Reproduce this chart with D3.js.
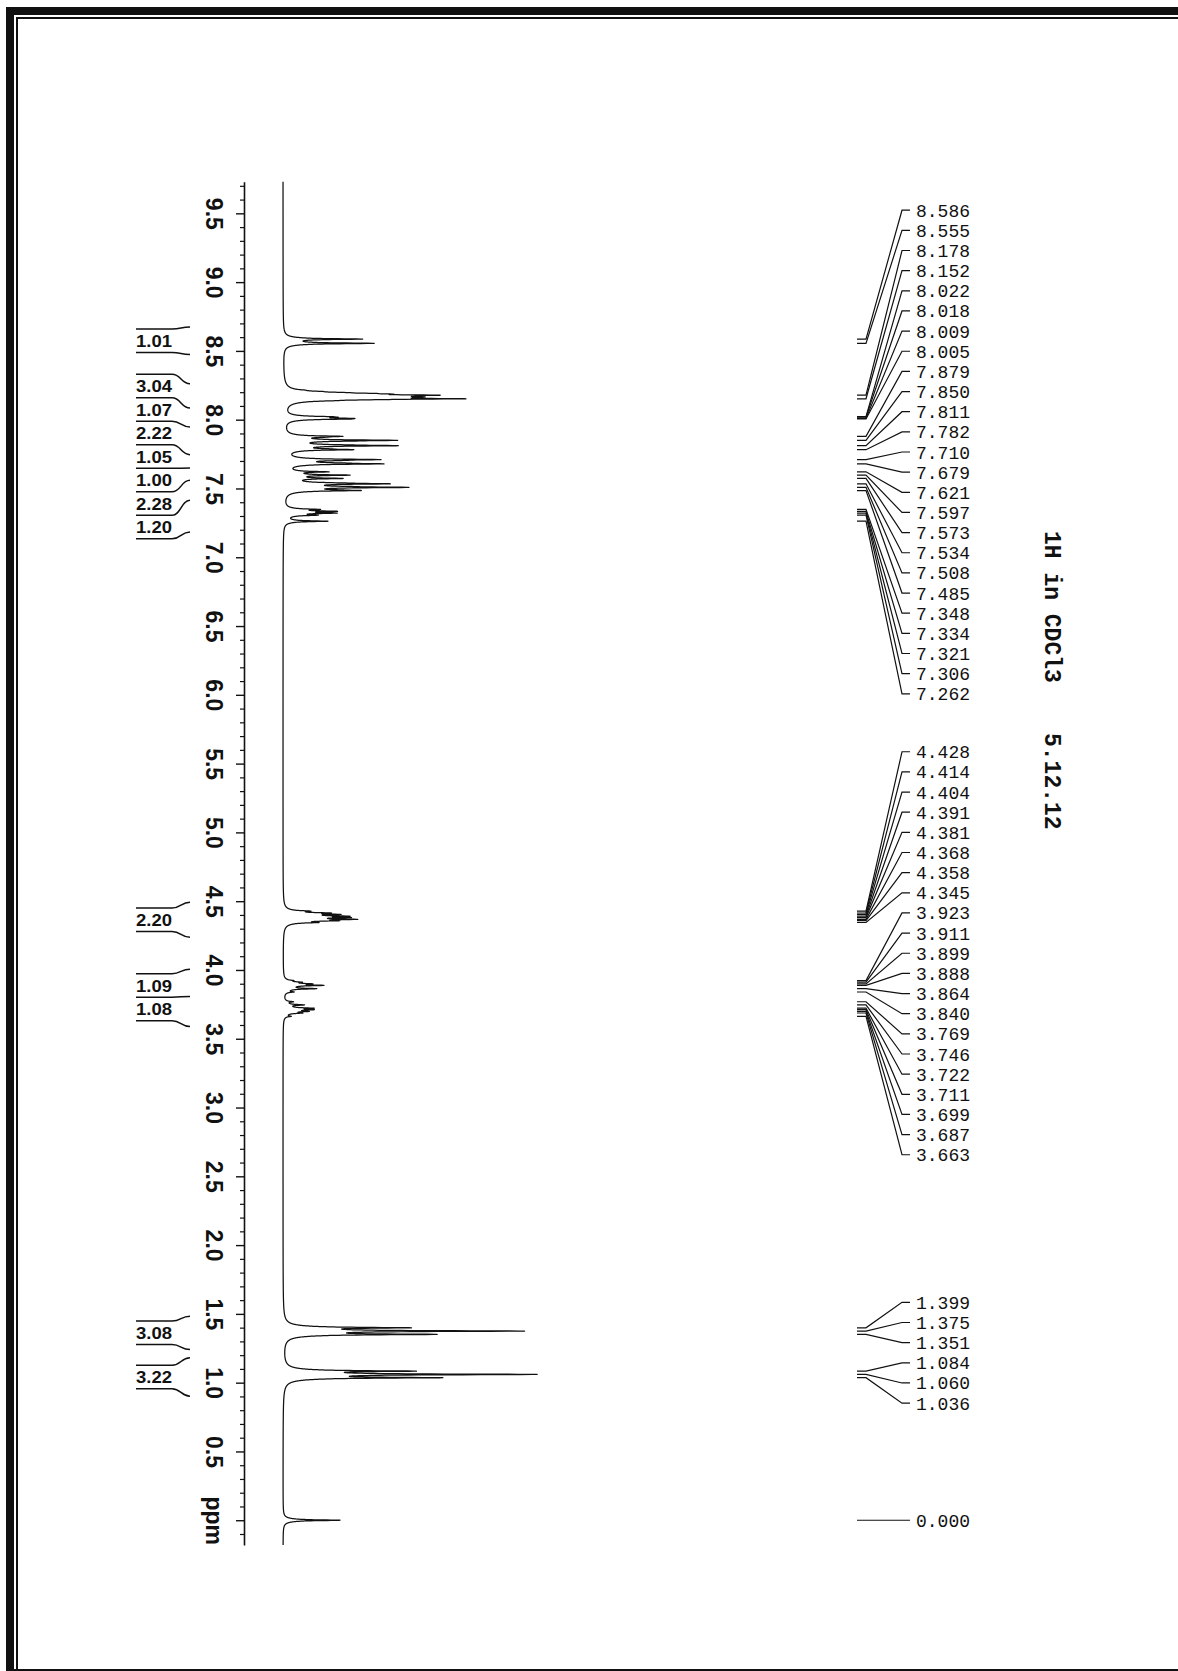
<!DOCTYPE html>
<html>
<head>
<meta charset="utf-8">
<script src="https://cdn.jsdelivr.net/npm/d3@7"></script>
<style>
  body { margin: 0; background: #fff; }
  svg { display: block; }
</style>
</head>
<body>
<svg id="chart" width="1178" height="1671"></svg>
<script>
// ---- data -------------------------------------------------------------

// plotted chemical-shift window (ppm), top of the page to bottom
const shiftWindow = [9.73, -0.18];

// picked peaks: shift (ppm) and line height (intensity units)
const peakShifts = [
  8.586, 8.555, 8.178, 8.152, 8.022, 8.018, 8.009, 8.005, 7.879, 7.850,
  7.811, 7.782, 7.710, 7.679, 7.621, 7.597, 7.573, 7.534, 7.508, 7.485,
  7.348, 7.334, 7.321, 7.306, 7.262,
  4.428, 4.414, 4.404, 4.391, 4.381, 4.368, 4.358, 4.345,
  3.923, 3.911, 3.899, 3.888, 3.864, 3.840,
  3.769, 3.746, 3.722, 3.711, 3.699, 3.687, 3.663,
  1.399, 1.375, 1.351, 1.084, 1.060, 1.036,
  0.000
];
const peakHeights = [
  76, 88, 95, 135, 24, 26, 40, 40, 46, 96,
  96, 56, 82, 85, 38, 58, 50, 88, 106, 60,
  28, 42, 42, 26, 43,
  18, 32, 38, 44, 44, 54, 36, 24,
  6, 12, 20, 34, 30, 8,
  8, 18, 24, 22, 18, 14, 6,
  112, 226, 138, 116, 238, 143,
  57
];

// weaker lines inside the multiplets that were not picked
const minorShifts  = [8.215, 8.205, 8.197, 8.191, 8.186, 8.172, 8.166, 8.160, 8.146, 8.138,
                      7.873, 7.845, 7.816, 7.788, 7.704, 7.685, 7.540, 7.514, 7.490];
const minorHeights = [6, 12, 22, 35, 45, 50, 60, 55, 30, 12,
                      18, 25, 25, 18, 25, 25, 22, 20, 18];

// integrals: value and region limits (ppm)
const integralValues = ["1.01", "3.04", "1.07", "2.22", "1.05", "1.00", "2.28", "1.20",
                        "2.20", "1.09", "1.08", "3.08", "3.22"];
const integralFrom = [8.673, 8.261, 8.085, 7.947, 7.746, 7.649, 7.559, 7.414,
                      4.493, 4.006, 3.807, 1.483, 1.181];
const integralTo   = [8.474, 8.085, 7.947, 7.746, 7.649, 7.559, 7.414, 7.184,
                      4.238, 3.807, 3.589, 1.241, 0.902];

// shift axis
const majorTicks = [9.5, 9.0, 8.5, 8.0, 7.5, 7.0, 6.5, 6.0, 5.5, 5.0,
                    4.5, 4.0, 3.5, 3.0, 2.5, 2.0, 1.5, 1.0, 0.5, 0.0];
const tickLabels = ["9.5", "9.0", "8.5", "8.0", "7.5", "7.0", "6.5", "6.0", "5.5", "5.0",
                    "4.5", "4.0", "3.5", "3.0", "2.5", "2.0", "1.5", "1.0", "0.5", "ppm"];

// sample description
const titleLines = ["1H in CDCl3", "5.12.12"];

// ---- drawing ----------------------------------------------------------

const svg = d3.select("#chart");
const ink = "#111";

// page frame
const frame = svg.append("g").attr("fill", ink);
frame.append("rect").attr("x", 6).attr("y", 7).attr("width", 1180).attr("height", 8);
frame.append("rect").attr("x", 6).attr("y", 7).attr("width", 8).attr("height", 1670);
frame.append("rect").attr("x", 16).attr("y", 17).attr("width", 1170).attr("height", 2);
frame.append("rect").attr("x", 16).attr("y", 17).attr("width", 2).attr("height", 1660);
frame.append("rect").attr("x", 6).attr("y", 1669).attr("width", 1175).attr("height", 2);

// scales: shift runs down the page, intensity to the right
const y = d3.scaleLinear().domain(shiftWindow).range([181.7, 1545]);
const x = d3.scaleLinear().domain([0, 260]).range([283, 543]);

// axis with major and minor ticks
const axisX = 244;
const minorTicks = d3.range(97, -2, -1).map(v => v / 10).filter(v => Math.abs(v * 2 - Math.round(v * 2)) > 1e-6);

svg.append("g")
  .attr("transform", `translate(${axisX},0)`)
  .call(d3.axisLeft(y).tickValues(minorTicks).tickSize(4).tickSizeOuter(0).tickFormat(""))
  .call(g => g.select(".domain").remove())
  .call(g => g.selectAll("line").attr("stroke", ink).attr("stroke-width", 1.2));

const axis = svg.append("g")
  .attr("transform", `translate(${axisX},0)`)
  .call(d3.axisLeft(y).tickValues(majorTicks).tickSize(8).tickSizeOuter(0)
    .tickFormat((d, i) => tickLabels[i]));
axis.select(".domain").attr("stroke", ink).attr("stroke-width", 1.6);
axis.selectAll("line").attr("stroke", ink).attr("stroke-width", 1.4);
axis.selectAll("text")
  .attr("x", 0).attr("dy", 0)
  .attr("text-anchor", "middle")
  .attr("transform", "translate(-38,0) rotate(90)")
  .attr("fill", ink)
  .style("font-family", "'Liberation Sans', Arial, sans-serif")
  .style("font-weight", "bold")
  .style("font-size", "23px");

// spectrum: every resonance contributes a sharp core with broader wings
const lines = peakShifts.map((p, i) => ({ p, h: peakHeights[i] }))
  .concat(minorShifts.map((p, i) => ({ p, h: minorHeights[i] })));
const coreHW = 0.003, wingHW = 0.012, wingShare = 0.25;
const shape = d => (1 - wingShare) / (1 + (d / coreHW) ** 2) + wingShare / (1 + (d / wingHW) ** 2);
const grid = d3.range(0, 19821).map(k => shiftWindow[0] - k * 0.0005);
const trace = grid.map(p => [p, d3.sum(lines, l => l.h * shape(p - l.p))]);

svg.append("path")
  .datum(trace)
  .attr("fill", "none")
  .attr("stroke", ink)
  .attr("stroke-width", 1.25)
  .attr("stroke-linejoin", "round")
  .attr("d", d3.line().x(d => x(d[1])).y(d => y(d[0])));

// integral labels, stacked where regions touch
const stackH = 23.5;
const stacks = [];
integralValues.forEach((v, i) => {
  const r = { v, from: integralFrom[i], to: integralTo[i] };
  r.c = (y(r.from) + y(r.to)) / 2;
  const last = stacks[stacks.length - 1];
  if (last && Math.abs(last[last.length - 1].to - r.from) < 1e-9) last.push(r);
  else stacks.push([r]);
});
const integ = svg.append("g");
stacks.forEach(st => {
  const top = d3.mean(st, r => r.c) - st.length * stackH / 2;
  const limits = [st[0].from].concat(st.map(r => r.to));
  limits.forEach((lim, k) => {
    const yl = top + k * stackH, yb = y(lim);
    integ.append("path")
      .attr("d", `M136,${yl}H172C181,${yl} 181,${yb} 190,${yb}`)
      .attr("fill", "none").attr("stroke", ink).attr("stroke-width", 1.5);
  });
  st.forEach((r, k) => {
    integ.append("text")
      .attr("x", 136).attr("y", top + (k + 1) * stackH - 5.5)
      .attr("textLength", 36).attr("lengthAdjust", "spacingAndGlyphs")
      .attr("fill", ink)
      .style("font-family", "'Liberation Sans', Arial, sans-serif")
      .style("font-weight", "bold").style("font-size", "17px")
      .text(r.v);
  });
});

// peak labels, spread into blocks so they do not overlap
const labelGap = 20.15;
let blocks = peakShifts.map(p => [{ p, y: y(p) }]);
let merged = true;
while (merged) {
  merged = false;
  for (let i = 0; i < blocks.length - 1; i++) {
    const a = blocks[i], b = blocks[i + 1];
    const aEnd = d3.mean(a, l => l.y) + (a.length - 1) * labelGap / 2;
    const bStart = d3.mean(b, l => l.y) - (b.length - 1) * labelGap / 2;
    if (bStart - aEnd < labelGap) { blocks.splice(i, 2, a.concat(b)); merged = true; break; }
  }
}
const blockNudge = [0, -14, 0, 0];
const fmt = d3.format(".3f");
const peakLab = svg.append("g");
blocks.forEach((bl, bi) => {
  const c = d3.mean(bl, l => l.y) + (blockNudge[bi] || 0);
  bl.forEach((l, k) => {
    const ly = c + (k - (bl.length - 1) / 2) * labelGap;
    peakLab.append("path")
      .attr("d", `M857,${l.y}H866L902,${ly}H910`)
      .attr("fill", "none").attr("stroke", ink).attr("stroke-width", 1.2);
    peakLab.append("text")
      .attr("x", 916).attr("y", ly + 6.5)
      .attr("fill", ink)
      .style("font-family", "'Liberation Mono', 'DejaVu Sans Mono', monospace")
      .style("font-size", "18px")
      .text(fmt(l.p));
  });
});

// sample description, written along the page
const title = svg.append("g")
  .style("font-family", "'Liberation Mono', 'DejaVu Sans Mono', monospace")
  .style("font-weight", "bold").style("font-size", "23px").attr("fill", ink);
title.append("text").attr("transform", "translate(1045,531) rotate(90)").text(titleLines[0]);
title.append("text").attr("transform", "translate(1045,733) rotate(90)").text(titleLines[1]);
</script>
</body>
</html>
